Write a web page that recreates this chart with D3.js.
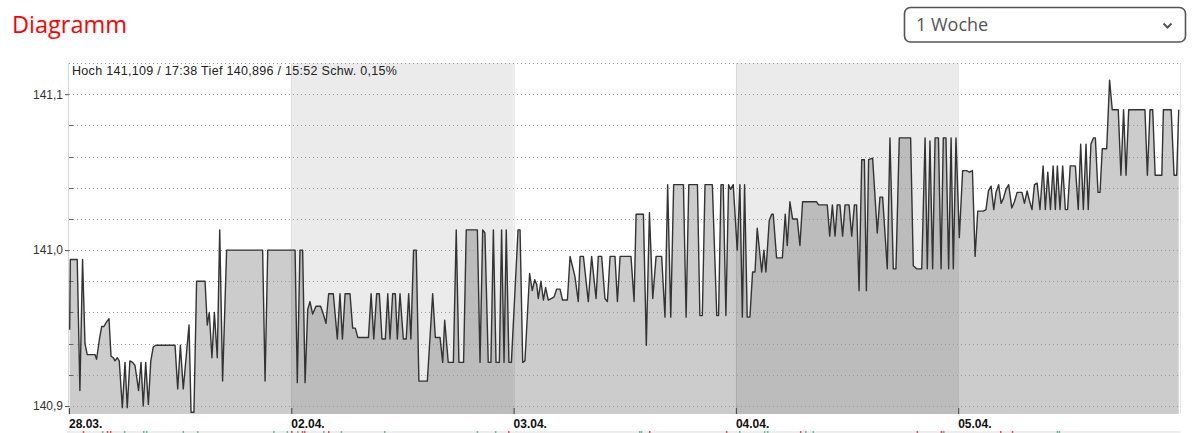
<!DOCTYPE html>
<html><head><meta charset="utf-8">
<script src="https://cdn.jsdelivr.net/npm/d3@7"></script>
<style>
html,body{margin:0;padding:0;background:#fff;}
svg{display:block;}
</style></head>
<body>
<svg id="chart" width="1198" height="433"></svg>
<script>
// ---------- data ----------
const title = "Diagramm";
const rangeLabel = "1 Woche";
const infoText = "Hoch 141,109 / 17:38 Tief 140,896 / 15:52 Schw. 0,15%";
const dayLabels = ["28.03.", "02.04.", "03.04.", "04.04.", "05.04."];
const shadedDays = [1, 3];
const yTickValues = [140.9, 141.0, 141.1];
const yGridValues = [140.90,140.92,140.94,140.96,140.98,141.00,141.02,141.04,141.06,141.08,141.10,141.12];
// time position in trading days since 28.03. session start
const times = [0.003,0.006,0.037,0.049,0.061,0.072,0.082,0.117,0.124,0.137,0.147,0.157,0.169,0.180,0.189,0.199,0.207,0.217,0.226,0.240,0.252,0.262,0.274,0.286,0.297,0.313,0.324,0.334,0.345,0.357,0.368,0.379,0.391,0.477,0.489,0.501,0.514,0.540,0.549,0.562,0.574,0.612,0.622,0.631,0.643,0.654,0.667,0.678,0.691,0.709,0.871,0.882,0.894,
1.017,1.027,1.039,1.051,1.062,1.074,1.084,1.096,1.111,1.132,1.144,1.156,1.168,1.189,1.207,1.219,1.230,1.242,1.264,1.276,1.288,1.299,1.347,1.359,1.371,1.384,1.396,1.408,1.423,1.434,1.444,1.456,1.468,1.477,1.489,1.504,1.517,1.528,1.538,1.550,1.562,1.574,1.612,1.636,1.648,1.669,1.681,1.690,1.706,1.729,1.742,1.754,1.775,1.787,1.837,1.849,1.861,1.871,1.886,1.898,1.909,1.921,1.936,1.946,1.957,1.967,1.979,1.990,
2.020,2.029,2.041,2.051,2.072,2.084,2.095,2.104,2.111,2.123,2.134,2.144,2.156,2.171,2.182,2.194,2.209,2.220,2.242,2.254,2.276,2.291,2.299,2.314,2.336,2.351,2.371,2.381,2.396,2.411,2.422,2.434,2.456,2.467,2.479,2.528,2.542,2.551,2.584,2.597,2.611,2.626,2.641,2.666,2.681,2.693,2.707,2.720,2.764,2.776,2.788,2.827,2.838,2.849,2.861,2.894,2.914,2.922,2.933,2.943,2.955,2.967,2.976,2.988,
3.006,3.018,3.029,3.039,3.051,3.063,3.075,3.086,3.096,3.116,3.126,3.135,3.150,3.161,3.168,3.183,3.209,3.222,3.231,3.243,3.255,3.276,3.288,3.300,3.363,3.372,3.411,3.422,3.434,3.446,3.456,3.468,3.480,3.491,3.509,3.521,3.533,3.543,3.554,3.566,3.578,3.587,3.597,3.615,3.636,3.648,3.660,3.681,3.693,3.708,3.720,3.735,3.786,3.798,3.813,3.836,3.851,3.861,3.873,3.885,3.896,3.911,3.923,3.933,3.945,3.957,3.968,3.978,3.990,
4.005,4.020,4.038,4.050,4.064,4.076,4.088,4.113,4.125,4.136,4.148,4.160,4.170,4.182,4.193,4.203,4.215,4.227,4.241,4.253,4.265,4.275,4.287,4.298,4.310,4.320,4.332,4.343,4.355,4.368,4.382,4.392,4.403,4.415,4.427,4.437,4.446,4.458,4.470,4.482,4.492,4.504,4.527,4.540,4.551,4.563,4.575,4.585,4.597,4.609,4.617,4.629,4.638,4.648,4.668,4.681,4.693,4.720,4.732,4.744,4.755,4.767,4.840,4.851,4.863,4.875,4.886,4.916,4.923,4.958,4.971,4.983,4.992];
const prices = [140.949,140.994,140.994,140.910,140.994,140.940,140.933,140.933,140.930,140.943,140.951,140.951,140.954,140.956,140.932,140.931,140.929,140.931,140.929,140.899,140.928,140.899,140.929,140.928,140.926,140.910,140.928,140.900,140.928,140.901,140.929,140.938,140.939,140.939,140.911,140.939,140.911,140.952,140.896,140.896,140.980,140.980,140.952,140.960,140.931,140.960,140.931,141.013,140.916,141.000,141.000,140.916,141.000,
141.000,140.915,141.000,141.000,140.915,140.962,140.967,140.959,140.964,140.964,140.959,140.953,140.972,140.972,140.943,140.972,140.943,140.972,140.972,140.950,140.950,140.944,140.944,140.972,140.943,140.972,140.972,140.943,140.943,140.972,140.943,140.972,140.972,140.943,140.972,140.943,140.943,140.972,140.943,141.000,141.000,140.916,140.916,140.972,140.944,140.944,140.928,140.955,140.928,140.928,141.013,140.928,140.928,141.013,141.013,140.928,141.013,141.011,140.928,140.928,141.013,140.928,140.928,141.013,140.928,141.013,140.928,140.928,
141.013,141.013,140.928,140.929,140.985,140.974,140.981,140.978,140.969,140.980,140.968,140.976,140.968,140.969,140.970,140.975,140.975,140.968,140.968,140.996,140.983,140.967,140.996,140.996,140.967,140.996,140.969,140.996,140.996,140.969,140.967,140.996,140.996,140.967,140.996,140.996,140.967,141.023,141.023,140.939,141.024,140.969,140.996,140.996,140.957,141.042,140.957,141.042,141.042,140.957,141.042,141.042,140.958,140.958,141.042,141.042,140.958,140.958,141.042,141.042,140.958,141.042,141.039,141.042,
141.000,141.042,140.957,141.042,140.957,140.957,140.986,140.986,141.014,140.986,141.000,140.986,141.019,141.023,141.023,140.995,140.995,141.023,141.003,141.031,141.020,141.020,141.003,141.031,141.031,141.029,141.029,141.009,141.029,141.009,141.029,141.029,141.009,141.029,141.029,141.009,141.029,141.029,140.974,141.058,141.058,140.974,141.058,141.059,141.011,141.034,141.034,140.988,141.072,140.988,140.988,141.072,141.072,140.990,140.988,140.988,141.072,140.988,141.070,140.988,141.072,141.072,140.988,141.072,141.072,140.988,141.072,140.988,141.072,
141.008,141.051,141.051,141.050,141.051,140.996,141.025,141.025,141.026,141.038,141.041,141.026,141.037,141.042,141.030,141.033,141.039,141.042,141.027,141.031,141.037,141.037,141.037,141.030,141.038,141.032,141.026,141.042,141.043,141.026,141.054,141.026,141.050,141.026,141.054,141.026,141.054,141.026,141.054,141.026,141.026,141.054,141.054,141.026,141.068,141.026,141.068,141.026,141.068,141.072,141.072,141.037,141.037,141.065,141.065,141.109,141.090,141.090,141.048,141.090,141.048,141.090,141.090,141.048,141.090,141.090,141.048,141.048,141.090,141.090,141.048,141.048,141.090];
// news markers (time positions)
const newsRed = [0.062,0.170,0.184,0.999,1.047,1.057,1.165,1.975,2.609,2.955,3.288,3.813,3.921,3.930,4.188,4.241];
const newsGreen = [0.148,0.247,0.333,0.346,0.511,0.576,0.918,0.979,1.026,1.143,1.222,1.417,1.834,1.916,2.564,2.572,3.014,3.126,3.140,3.311,3.345,3.932,4.443,4.452];

// ---------- layout ----------
const L = 69, R = 1180.5, T = 63, B = 414;
const svg = d3.select("#chart");
const x = d3.scaleLinear().domain([0, 5]).range([L, R]);
const y = d3.scaleLinear().domain([140.8949, 141.12]).range([B, T]);
const fmt = v => d3.format(".1f")(v).replace(".", ",");

// title
svg.append("text").attr("x", 12).attr("y", 33).text(title)
  .attr("font-family", "'Open Sans', sans-serif").attr("font-size", 23.5).attr("fill", "#ff0000");

// dropdown
svg.append("rect").attr("x", 904.5).attr("y", 7.5).attr("width", 281).attr("height", 34.5).attr("rx", 6)
  .attr("fill", "#fff").attr("stroke", "#555").attr("stroke-width", 1.6);
svg.append("text").attr("x", 916).attr("y", 31).text(rangeLabel)
  .attr("font-family", "'Open Sans', sans-serif").attr("font-size", 18).attr("fill", "#555");
svg.append("path").attr("d", "M1163.5,23.5 L1167.5,27.5 L1171.5,23.5").attr("fill", "none")
  .attr("stroke", "#555").attr("stroke-width", 2);

// plot group
const g = svg.append("g");

// shaded day backgrounds
g.selectAll("rect.bg").data(shadedDays).join("rect")
  .attr("x", d => x(d)).attr("y", T).attr("width", d => x(d + 1) - x(d)).attr("height", B - T)
  .attr("fill", "#ebebeb");

// area
const data = times.map((t, i) => ({ t, p: prices[i] }));
g.append("path").datum(data)
  .attr("d", d3.area().x(d => x(d.t)).y0(B).y1(d => y(d.p)))
  .attr("fill", "#cccccc");

// darken area on shaded days
const clipId = "areaClip";
svg.append("clipPath").attr("id", clipId).append("path").datum(data)
  .attr("d", d3.area().x(d => x(d.t)).y0(B).y1(d => y(d.p)));
g.append("g").attr("clip-path", `url(#${clipId})`).selectAll("rect").data(shadedDays).join("rect")
  .attr("x", d => x(d)).attr("y", T).attr("width", d => x(d + 1) - x(d)).attr("height", B - T)
  .attr("fill", "#bcbcbc");

// day boundary lines
g.selectAll("line.day").data(d3.range(1, 5)).join("line")
  .attr("x1", d => Math.round(x(d)) + 0.5).attr("x2", d => Math.round(x(d)) + 0.5)
  .attr("y1", T).attr("y2", B).attr("stroke", "#000").attr("stroke-opacity", 0.08);

// frame
g.append("line").attr("x1", L - 0.5).attr("x2", L - 0.5).attr("y1", T).attr("y2", B).attr("stroke", "#d8d8d8");
g.append("line").attr("x1", R).attr("x2", R).attr("y1", T).attr("y2", B).attr("stroke", "#e4e4e4");

// horizontal dotted grid
g.selectAll("line.grid").data(yGridValues).join("line")
  .attr("x1", L).attr("x2", R)
  .attr("y1", d => Math.round(y(d)) + 0.5).attr("y2", d => Math.round(y(d)) + 0.5)
  .attr("stroke", "#9a9a9a").attr("stroke-dasharray", "1,3");

// minor ticks
g.selectAll("line.mt").data(yGridValues.filter(v => !yTickValues.some(t => Math.abs(t - v) < 1e-6) && v < 141.11)).join("line")
  .attr("x1", L).attr("x2", L + 4)
  .attr("y1", d => Math.round(y(d)) + 0.5).attr("y2", d => Math.round(y(d)) + 0.5)
  .attr("stroke", "#666");

// y axis labels + major ticks
const yAxis = d3.axisLeft(y).tickValues(yTickValues).tickSize(4).tickPadding(2).tickFormat(fmt);
const ya = svg.append("g").attr("transform", `translate(${L},0)`).call(yAxis);
ya.select(".domain").remove();
ya.selectAll(".tick line").attr("stroke", "#555");
ya.selectAll(".tick text").attr("font-family", "'Liberation Sans', Arial, sans-serif").attr("font-size", 12).attr("fill", "#333");

// price line
g.append("path").datum(data)
  .attr("d", d3.line().x(d => x(d.t)).y(d => y(d.p)))
  .attr("fill", "none").attr("stroke", "#333").attr("stroke-width", 1.4).attr("stroke-linejoin", "round");

// x axis: ticks inside + labels
const xa = svg.append("g").attr("transform", `translate(0,${B})`)
  .call(d3.axisBottom(x).tickValues(d3.range(0, 5)).tickSizeInner(-6).tickSizeOuter(0).tickPadding(0).tickFormat(""));
xa.select(".domain").remove();
xa.selectAll(".tick line").attr("stroke", "#444");
svg.append("g").selectAll("text").data(dayLabels).join("text")
  .attr("x", (d, i) => x(i)).attr("y", 428).text(d => d)
  .attr("font-family", "'Liberation Sans', Arial, sans-serif").attr("font-size", 12).attr("font-weight", "bold")
  .attr("fill", "#111");

// info text
svg.append("text").attr("x", 72).attr("y", 75).text(infoText)
  .attr("font-family", "'Liberation Sans', Arial, sans-serif").attr("font-size", 12.5)
  .attr("letter-spacing", "0.3").attr("fill", "#222");

// news strip
svg.append("rect").attr("x", L - 2).attr("y", 431).attr("width", R - L + 2).attr("height", 2).attr("fill", "#eeeeee");
svg.append("g").selectAll("rect").data(newsRed).join("rect")
  .attr("x", d => x(d)).attr("y", 431).attr("width", 1.5).attr("height", 2).attr("fill", "#ff4444");
svg.append("g").selectAll("rect").data(newsGreen).join("rect")
  .attr("x", d => x(d)).attr("y", 431).attr("width", 1.5).attr("height", 2).attr("fill", "#5cc49a");
</script>
</body></html>
